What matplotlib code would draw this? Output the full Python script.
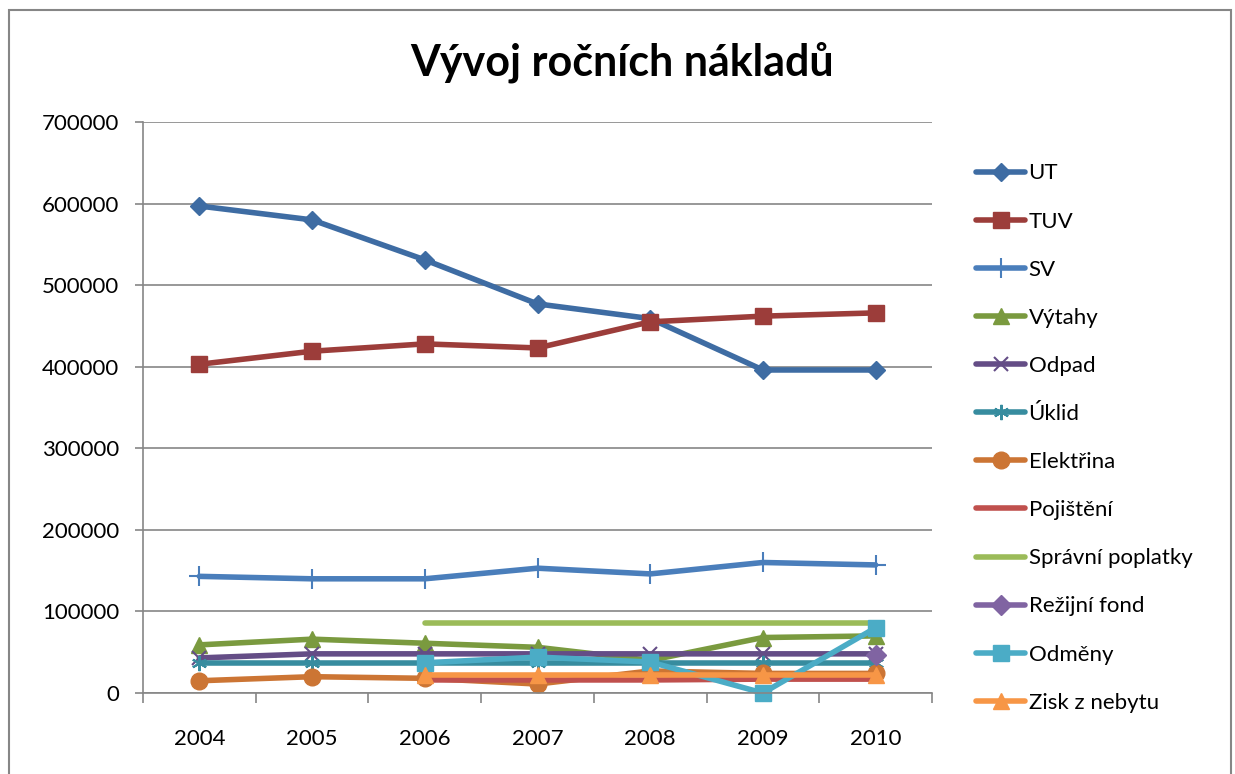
import numpy as np
import matplotlib.pyplot as plt
from matplotlib.patches import Rectangle

nan = np.nan
years = ['2004', '2005', '2006', '2007', '2008', '2009', '2010']

ut = [597000, 580000, 531000, 477000, 459000, 396000, 396000]
tuv = [403000, 419000, 428000, 423000, 455000, 462000, 466000]
sv = [143000, 140000, 140000, 153000, 146000, 160000, 157000]
vytahy = [59000, 66000, 61000, 56000, 40000, 68000, 70000]
odpad = [43000, 48000, 48000, 48000, 48000, 48000, 48000]
uklid = [37000, 37000, 37000, 37000, 37000, 37000, 37000]
elektrina = [15000, 20000, 18000, 11000, 27000, 24000, 24000]
pojisteni = [nan, nan, 16000, 16000, 16000, 17000, 17000]
spravni = [nan, nan, 86000, 86000, 86000, 86000, 86000]
rezijni = [nan, nan, nan, nan, nan, nan, 47000]
odmeny = [nan, nan, 37000, 44000, 38000, 0, 80000]
zisk = [nan, nan, 22000, 22000, 22000, 22000, 22000]

# name, values, colour, marker, marker size, marker edge width
series = [
    ('UT', ut, '#3E6CA3', 'D', 9, 1),
    ('TUV', tuv, '#9C3D3A', 's', 11, 1),
    ('SV', sv, '#4A7EBB', '+', 14, 1.5),
    ('Výtahy', vytahy, '#7A9A3F', '^', 11, 1),
    ('Odpad', odpad, '#644D86', 'x', 10, 1.5),
    ('Úklid', uklid, '#378C9F', (6, 2, 0), 11, 1.5),
    ('Elektřina', elektrina, '#CC7534', 'o', 12, 1),
    ('Pojištění', pojisteni, '#C0504D', None, 0, 0),
    ('Správní poplatky', spravni, '#9BBB59', None, 0, 0),
    ('Režijní fond', rezijni, '#8064A2', 'D', 10, 1),
    ('Odměny', odmeny, '#4BACC6', 's', 12, 1),
    ('Zisk z nebytu', zisk, '#F79646', '^', 12, 1),
]

plt.rcParams['font.family'] = ['Lato', 'DejaVu Sans']

fig = plt.figure(figsize=(12.35, 7.74), dpi=100)
fig.patches.append(Rectangle((9 / 1235, -0.01), 1222 / 1235, 1 - 10 / 774 + 0.01,
                             transform=fig.transFigure, fill=False,
                             edgecolor='#868686', linewidth=1.5))

ax = fig.add_axes([143 / 1235, 81 / 774, 789 / 1235, 571 / 774])
x = np.arange(len(years))

for name, vals, col, mk, ms, mew in series:
    ax.plot(x, vals, color=col, linewidth=4, marker=mk, markersize=ms,
            markeredgewidth=mew, markeredgecolor=col, markerfacecolor=col,
            label=name, solid_capstyle='round', clip_on=False)

ax.set_xlim(-0.5, len(years) - 0.5)
ax.set_ylim(0, 700000)
ax.set_yticks(np.arange(0, 700001, 100000))
ax.set_yticklabels([str(v) for v in range(0, 700001, 100000)], fontsize=16)
ax.set_xticks(x)
ax.set_xticklabels(years, fontsize=16)
ax.set_xticks(np.arange(-0.5, len(years), 1), minor=True)
ax.tick_params(axis='x', which='major', length=0, pad=26)
ax.tick_params(axis='x', which='minor', length=7, color='#868686', width=1.2)
ax.tick_params(axis='y', length=6, color='#868686', width=1.2, pad=11)

ax.grid(axis='y', color='#868686', linewidth=1.2)
ax.set_axisbelow(True)
for s in ['top', 'right']:
    ax.spines[s].set_visible(False)
for s in ['left', 'bottom']:
    ax.spines[s].set_color('#868686')
    ax.spines[s].set_linewidth(1.2)

fig.text(622 / 1235, 1 - 62 / 774, 'Vývoj ročních nákladů',
         ha='center', va='center', fontsize=31, fontweight='bold')

ax.legend(loc='upper left', bbox_to_anchor=(1.045, 0.943), frameon=False,
          fontsize=16, handlelength=2.2, handletextpad=0.15,
          labelspacing=1.265, borderaxespad=0)

fig.savefig('out.png', dpi=100)
